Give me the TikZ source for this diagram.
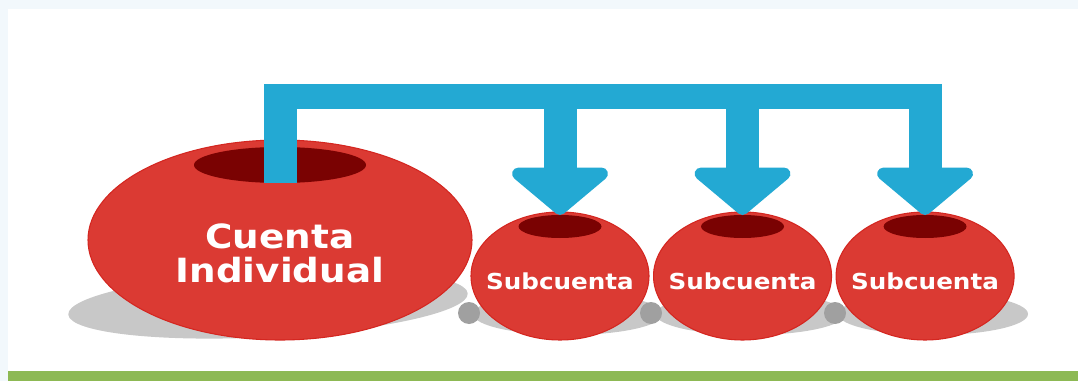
\documentclass[tikz,border=0pt]{standalone}
\usepackage{fontspec}
\newfontfamily\labelfont[FakeStretch=1.12]{DejaVu Sans}
\usetikzlibrary{positioning}
\usetikzlibrary{shapes,arrows.meta}

\definecolor{cuentared}{HTML}{DB3A33}
\definecolor{rimred}{HTML}{D42620}
\definecolor{holered}{HTML}{7A0202}
\definecolor{pipeblue}{HTML}{23A9D3}
\definecolor{shadowgray}{HTML}{C8C8C8}
\definecolor{dotgray}{HTML}{A0A0A0}
\definecolor{basegreen}{HTML}{8DB954}
\definecolor{edgeblue}{HTML}{F2F8FC}

\tikzset{
  account/.style={ellipse, fill=cuentared, draw=rimred, line width=0.8pt, inner sep=0pt, outer sep=0pt},
  subsize/.style={minimum width=133.5pt, minimum height=96pt},
  hole/.style={ellipse, fill=holered, inner sep=0pt, outer sep=0pt},
  shadow/.style={ellipse, fill=shadowgray, inner sep=0pt},
  acctext/.style={text=white, align=center, inner sep=0pt},
  shaft/.style={draw=pipeblue, line width=24.75pt},
  bar/.style={draw=pipeblue, line width=18.75pt},
  tip/.style={-{Triangle[width=86pt,length=37pt,round,line width=10pt]}}
}

\begin{document}
\begin{tikzpicture}[x=0.75pt,y=-0.75pt]
    \useasboundingbox (0,0) rectangle (1078,381);
    % Background
    \fill[white] (0,0) rectangle (1078,381);
    \fill[edgeblue] (0,0) rectangle (1078,9);
    \fill[edgeblue] (0,0) rectangle (8,381);
    \fill[basegreen] (8,371) rectangle (1078,381);
    % Shadows
    \node[shadow, minimum width=300pt, minimum height=49.5pt, rotate=3] (cuentashadow) at (268,304) {};
    \foreach \x [count=\i] in {568,750.5,933}
        \node[shadow, minimum width=142.5pt, minimum height=31.5pt] (shadow\i) at (\x,314) {};
    \foreach \x in {469,651,835}
        \fill[dotgray] (\x,313) circle[radius=8.25pt];
    % Define nodes
    \node[account, minimum width=288pt, minimum height=150pt] (cuenta) at (280,240) {};
    \node[hole, minimum width=129pt, minimum height=27pt, below=5.25pt of cuenta.north] (cuentahole) {};
    \node[acctext, font=\labelfont\bfseries\fontsize{25}{26}\selectfont] (cuentatext) at ([yshift=-10pt]cuenta.center) {Cuenta\\Individual};
    \node[account, subsize] (s1) at (560,276) {};
    \node[account, subsize, right=3.4pt of s1] (s2) {};
    \node[account, subsize, right=3.4pt of s2] (s3) {};
    \foreach \s in {s1,s2,s3} {
        \node[hole, minimum width=62.25pt, minimum height=17.25pt, below=2.25pt of \s.north] (\s-hole) {};
        \node[acctext, font=\labelfont\bfseries\fontsize{16.5}{18}\selectfont] (\s-text) at ([yshift=-3.75pt]\s.center) {Subcuenta};
    }
    % Connect nodes
    \coordinate (b0) at (280,84);
    \coordinate (barL) at (264,96.5);
    \coordinate (barR) at (941.5,96.5);
    \draw[bar] (barL) -- (barR);
    \draw[shaft] (cuentahole.south) -- (b0);
    \foreach \s in {s1,s2,s3}
        \draw[shaft, tip] (\s |- b0) -- (\s-hole.north);
\end{tikzpicture}
\end{document}
